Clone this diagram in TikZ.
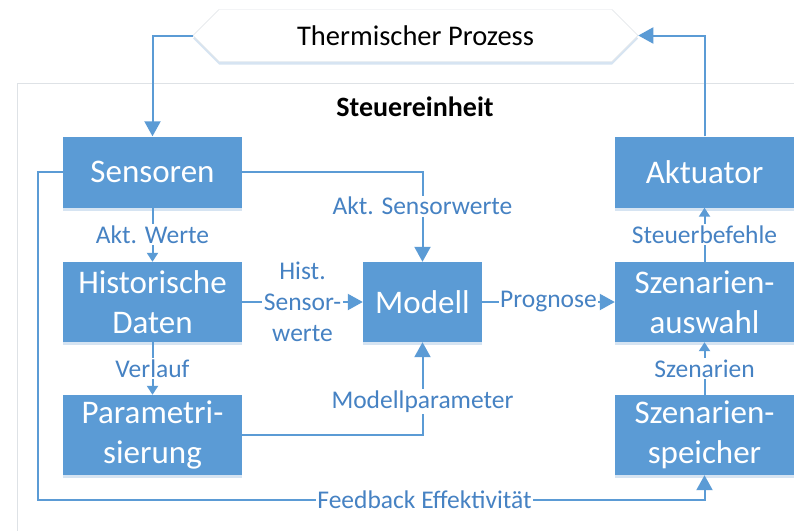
\documentclass[tikz,border=0pt]{standalone}
\usepackage{fontspec}
\setmainfont{Carlito}
\usetikzlibrary{arrows.meta,shapes.symbols,shadows}
\definecolor{boxblue}{RGB}{91,155,213}
\definecolor{lblblue}{RGB}{70,130,195}
\definecolor{framegray}{RGB}{222,226,230}
\definecolor{shadeblue}{RGB}{214,228,242}

\begin{document}
\begin{tikzpicture}
  [x=1pt,y=-1pt,
   box/.style={rectangle,fill=boxblue,text=white,align=center,
     minimum width=179pt,minimum height=80pt,inner sep=0pt,
     font=\fontsize{33}{40}\selectfont,
     drop shadow={shadow xshift=0pt,shadow yshift=-3pt,fill=shadeblue,opacity=1}},
   lbl/.style={fill=white,text=lblblue,inner sep=1.5pt,align=center,
     font=\fontsize{25.5}{31}\selectfont},
   arr/.style={draw=boxblue,line width=2pt,-{Triangle[width=16pt,length=15pt]}},
   arrs/.style={draw=boxblue,line width=2pt,-{Triangle[width=11pt,length=9pt]}}]
  \clip (0,0) rectangle (794,530);
  \fill[white] (0,0) rectangle (794,530);
  \draw[framegray,line width=1pt] (17,545) -- (17,83) -- (810,83);

  \node[signal,signal to=west and east,signal pointer angle=90,draw=framegray,fill=white,
    minimum width=445pt,minimum height=52pt,inner sep=0pt,
    font=\fontsize{28.5}{32}\selectfont,
    drop shadow={shadow xshift=0pt,shadow yshift=-3pt,fill=shadeblue,opacity=1}]
    (proz) at (415.5,35.5) {Thermischer Prozess};
  \node[font=\fontsize{28}{32}\selectfont\bfseries] (steu) at (415,107) {Steuereinheit};

  \node[box,minimum height=71pt] (sens) at (152.5,172) {Sensoren};
  \node[box] (hist) at (152.5,302) {Historische\\Daten};
  \node[box] (param) at (152.5,435) {Parametri-\\sierung};
  \node[box,minimum width=119pt] (modell) at (422.5,302) {Modell};
  \node[box,minimum height=71pt] (akt) at (704.5,172) {Aktuator};
  \node[box] (auswahl) at (704.5,302) {Szenarien-\\auswahl};
  \node[box] (speicher) at (704.5,435) {Szenarien-\\speicher};
  \coordinate (fb) at (38,500);

  \foreach \from/\to/\txt in {sens/hist/Akt. Werte,hist/param/Verlauf,
      speicher/auswahl/Szenarien,auswahl/akt/Steuerbefehle}
    \draw[arrs] (\from) -- node[lbl]{\txt} (\to);
  \draw[arr] (hist) -- node[lbl]{Hist.\\Sensor-\\werte} (modell);
  \draw[arr] (modell) -- node[lbl]{Prognose} (auswahl);
  \draw[arr] (sens.east) -| node[lbl,pos=0.69]{Akt. Sensorwerte} (modell.north);
  \draw[arr] (param.east) -| node[lbl,pos=0.68]{Modellparameter} (modell.south);
  \draw[arr] (proz.west) -| (sens.north);
  \draw[arr] (akt.north) |- (proz.east);
  \draw[arr] (sens.west) -| (fb) -| node[lbl,pos=0.29]{Feedback Effektivität} (speicher.south);
\end{tikzpicture}
\end{document}
